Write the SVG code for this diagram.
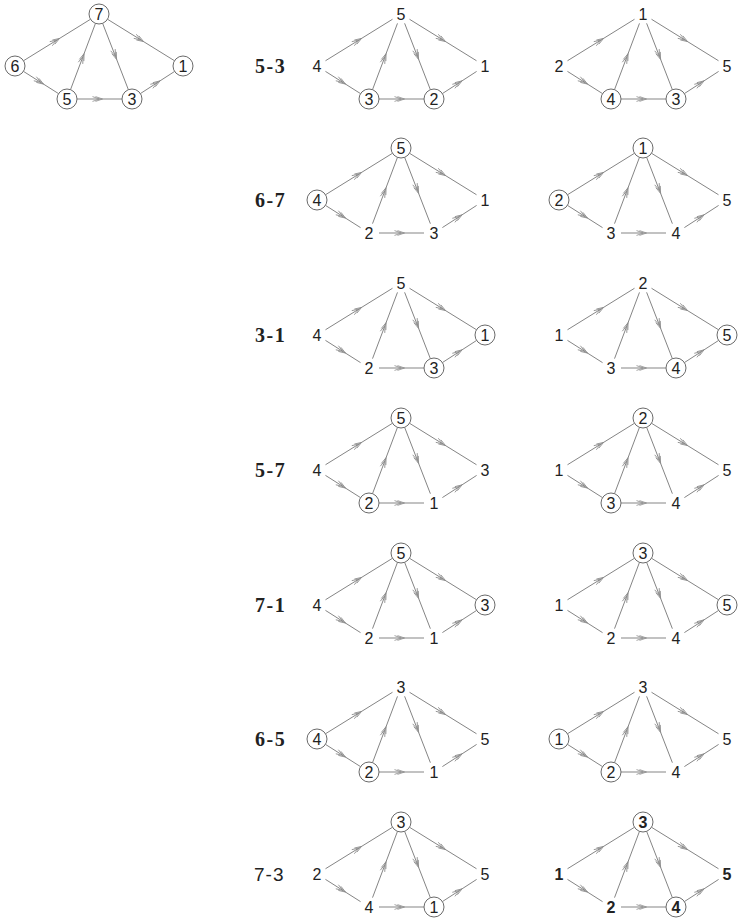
<svg xmlns="http://www.w3.org/2000/svg" width="742" height="919" viewBox="0 0 742 919">
<style>
.e{fill:none;stroke:#858585;stroke-width:1;marker-mid:url(#ah)}
.c{fill:#fff;stroke:#6a6a6a;stroke-width:1}
.n{font-family:"Liberation Sans",Arial,sans-serif;font-size:16px;fill:#222;text-anchor:middle}
.b{font-weight:bold}
.lab{font-family:"Liberation Serif","Times New Roman",serif;font-size:20px;font-weight:bold;fill:#222;letter-spacing:1.5px}
.lab2{font-family:"Liberation Sans",Arial,sans-serif;font-size:19px;fill:#222;letter-spacing:1px}
</style>
<defs>
<marker id="ah" markerUnits="userSpaceOnUse" markerWidth="14" markerHeight="10" viewBox="-8 -5 14 10" refX="0" refY="0" orient="auto" overflow="visible">
<path d="M-7,-2.4 L0,0 L-7,2.4 M-4,-2.4 L3,0 L-4,2.4" fill="none" stroke="#8a8a8a" stroke-width="0.8"/>
</marker>
<g id="edges">
<path class="e" d="M-75.5,46.74 L-42,26 L-8.5,5.26"/>
<path class="e" d="M-75.56,57.36 L-58,68.5 L-40.44,79.64"/>
<path class="e" d="M-28.48,75.64 L-16,42.5 L-3.52,9.36"/>
<path class="e" d="M3.62,9.32 L16.5,42.5 L29.38,75.68"/>
<path class="e" d="M8.5,5.26 L42,26 L75.5,46.74"/>
<path class="e" d="M-22,85 L0.5,85 L23,85"/>
<path class="e" d="M41.4,79.57 L58.5,68.5 L75.6,57.43"/>
</g>
</defs>
<rect width="742" height="919" fill="#fff"/>
<g id="connectors">
<use href="#edges" transform="translate(99,14)"/>
<use href="#edges" transform="translate(401,14)"/>
<use href="#edges" transform="translate(643,14)"/>
<use href="#edges" transform="translate(401,148)"/>
<use href="#edges" transform="translate(643,148)"/>
<use href="#edges" transform="translate(401,283)"/>
<use href="#edges" transform="translate(643,283)"/>
<use href="#edges" transform="translate(401,418)"/>
<use href="#edges" transform="translate(643,418)"/>
<use href="#edges" transform="translate(401,553)"/>
<use href="#edges" transform="translate(643,553)"/>
<use href="#edges" transform="translate(401,687)"/>
<use href="#edges" transform="translate(643,687)"/>
<use href="#edges" transform="translate(401,822)"/>
<use href="#edges" transform="translate(643,822)"/>
</g>
<g id="labels">
<text class="lab" x="255" y="73">5-3</text>
<text class="lab" x="255" y="207">6-7</text>
<text class="lab" x="255" y="342">3-1</text>
<text class="lab" x="255" y="477">5-7</text>
<text class="lab" x="255" y="612">7-1</text>
<text class="lab" x="255" y="746">6-5</text>
<text class="lab2" x="254" y="881">7-3</text>
</g>
<!-- Graph 0 -->
<g id="g0-6"><circle class="c" cx="15" cy="66" r="10"/><text class="n" x="15" y="71.8">6</text></g>
<g id="g0-7"><circle class="c" cx="99" cy="14" r="10"/><text class="n" x="99" y="19.8">7</text></g>
<g id="g0-1"><circle class="c" cx="183" cy="66" r="10"/><text class="n" x="183" y="71.8">1</text></g>
<g id="g0-5"><circle class="c" cx="67" cy="99" r="10"/><text class="n" x="67" y="104.8">5</text></g>
<g id="g0-3"><circle class="c" cx="132" cy="99" r="10"/><text class="n" x="132" y="104.8">3</text></g>
<!-- Row 1 middle -->
<g id="r1m-4"><text class="n" x="317" y="71.8">4</text></g>
<g id="r1m-5"><text class="n" x="401" y="19.8">5</text></g>
<g id="r1m-1"><text class="n" x="485" y="71.8">1</text></g>
<g id="r1m-3"><circle class="c" cx="369" cy="99" r="10"/><text class="n" x="369" y="104.8">3</text></g>
<g id="r1m-2"><circle class="c" cx="434" cy="99" r="10"/><text class="n" x="434" y="104.8">2</text></g>
<!-- Row 1 right -->
<g id="r1r-2"><text class="n" x="559" y="71.8">2</text></g>
<g id="r1r-1"><text class="n" x="643" y="19.8">1</text></g>
<g id="r1r-5"><text class="n" x="727" y="71.8">5</text></g>
<g id="r1r-4"><circle class="c" cx="611" cy="99" r="10"/><text class="n" x="611" y="104.8">4</text></g>
<g id="r1r-3"><circle class="c" cx="676" cy="99" r="10"/><text class="n" x="676" y="104.8">3</text></g>
<!-- Row 2 middle -->
<g id="r2m-4"><circle class="c" cx="317" cy="200" r="10"/><text class="n" x="317" y="205.8">4</text></g>
<g id="r2m-5"><circle class="c" cx="401" cy="148" r="10"/><text class="n" x="401" y="153.8">5</text></g>
<g id="r2m-1"><text class="n" x="485" y="205.8">1</text></g>
<g id="r2m-2"><text class="n" x="369" y="238.8">2</text></g>
<g id="r2m-3"><text class="n" x="434" y="238.8">3</text></g>
<!-- Row 2 right -->
<g id="r2r-2"><circle class="c" cx="559" cy="200" r="10"/><text class="n" x="559" y="205.8">2</text></g>
<g id="r2r-1"><circle class="c" cx="643" cy="148" r="10"/><text class="n" x="643" y="153.8">1</text></g>
<g id="r2r-5"><text class="n" x="727" y="205.8">5</text></g>
<g id="r2r-3"><text class="n" x="611" y="238.8">3</text></g>
<g id="r2r-4"><text class="n" x="676" y="238.8">4</text></g>
<!-- Row 3 middle -->
<g id="r3m-4"><text class="n" x="317" y="340.8">4</text></g>
<g id="r3m-5"><text class="n" x="401" y="288.8">5</text></g>
<g id="r3m-1"><circle class="c" cx="485" cy="335" r="10"/><text class="n" x="485" y="340.8">1</text></g>
<g id="r3m-2"><text class="n" x="369" y="373.8">2</text></g>
<g id="r3m-3"><circle class="c" cx="434" cy="368" r="10"/><text class="n" x="434" y="373.8">3</text></g>
<!-- Row 3 right -->
<g id="r3r-1"><text class="n" x="559" y="340.8">1</text></g>
<g id="r3r-2"><text class="n" x="643" y="288.8">2</text></g>
<g id="r3r-5"><circle class="c" cx="727" cy="335" r="10"/><text class="n" x="727" y="340.8">5</text></g>
<g id="r3r-3"><text class="n" x="611" y="373.8">3</text></g>
<g id="r3r-4"><circle class="c" cx="676" cy="368" r="10"/><text class="n" x="676" y="373.8">4</text></g>
<!-- Row 4 middle -->
<g id="r4m-4"><text class="n" x="317" y="475.8">4</text></g>
<g id="r4m-5"><circle class="c" cx="401" cy="418" r="10"/><text class="n" x="401" y="423.8">5</text></g>
<g id="r4m-3"><text class="n" x="485" y="475.8">3</text></g>
<g id="r4m-2"><circle class="c" cx="369" cy="503" r="10"/><text class="n" x="369" y="508.8">2</text></g>
<g id="r4m-1"><text class="n" x="434" y="508.8">1</text></g>
<!-- Row 4 right -->
<g id="r4r-1"><text class="n" x="559" y="475.8">1</text></g>
<g id="r4r-2"><circle class="c" cx="643" cy="418" r="10"/><text class="n" x="643" y="423.8">2</text></g>
<g id="r4r-5"><text class="n" x="727" y="475.8">5</text></g>
<g id="r4r-3"><circle class="c" cx="611" cy="503" r="10"/><text class="n" x="611" y="508.8">3</text></g>
<g id="r4r-4"><text class="n" x="676" y="508.8">4</text></g>
<!-- Row 5 middle -->
<g id="r5m-4"><text class="n" x="317" y="610.8">4</text></g>
<g id="r5m-5"><circle class="c" cx="401" cy="553" r="10"/><text class="n" x="401" y="558.8">5</text></g>
<g id="r5m-3"><circle class="c" cx="485" cy="605" r="10"/><text class="n" x="485" y="610.8">3</text></g>
<g id="r5m-2"><text class="n" x="369" y="643.8">2</text></g>
<g id="r5m-1"><text class="n" x="434" y="643.8">1</text></g>
<!-- Row 5 right -->
<g id="r5r-1"><text class="n" x="559" y="610.8">1</text></g>
<g id="r5r-3"><circle class="c" cx="643" cy="553" r="10"/><text class="n" x="643" y="558.8">3</text></g>
<g id="r5r-5"><circle class="c" cx="727" cy="605" r="10"/><text class="n" x="727" y="610.8">5</text></g>
<g id="r5r-2"><text class="n" x="611" y="643.8">2</text></g>
<g id="r5r-4"><text class="n" x="676" y="643.8">4</text></g>
<!-- Row 6 middle -->
<g id="r6m-4"><circle class="c" cx="317" cy="739" r="10"/><text class="n" x="317" y="744.8">4</text></g>
<g id="r6m-3"><text class="n" x="401" y="692.8">3</text></g>
<g id="r6m-5"><text class="n" x="485" y="744.8">5</text></g>
<g id="r6m-2"><circle class="c" cx="369" cy="772" r="10"/><text class="n" x="369" y="777.8">2</text></g>
<g id="r6m-1"><text class="n" x="434" y="777.8">1</text></g>
<!-- Row 6 right -->
<g id="r6r-1"><circle class="c" cx="559" cy="739" r="10"/><text class="n" x="559" y="744.8">1</text></g>
<g id="r6r-3"><text class="n" x="643" y="692.8">3</text></g>
<g id="r6r-5"><text class="n" x="727" y="744.8">5</text></g>
<g id="r6r-2"><circle class="c" cx="611" cy="772" r="10"/><text class="n" x="611" y="777.8">2</text></g>
<g id="r6r-4"><text class="n" x="676" y="777.8">4</text></g>
<!-- Row 7 middle -->
<g id="r7m-2"><text class="n" x="317" y="879.8">2</text></g>
<g id="r7m-3"><circle class="c" cx="401" cy="822" r="10"/><text class="n" x="401" y="827.8">3</text></g>
<g id="r7m-5"><text class="n" x="485" y="879.8">5</text></g>
<g id="r7m-4"><text class="n" x="369" y="912.8">4</text></g>
<g id="r7m-1"><circle class="c" cx="434" cy="907" r="10"/><text class="n" x="434" y="912.8">1</text></g>
<!-- Row 7 right -->
<g id="r7r-1"><text class="n b" x="559" y="879.8">1</text></g>
<g id="r7r-3"><circle class="c" cx="643" cy="822" r="10"/><text class="n b" x="643" y="827.8">3</text></g>
<g id="r7r-5"><text class="n b" x="727" y="879.8">5</text></g>
<g id="r7r-2"><text class="n b" x="611" y="912.8">2</text></g>
<g id="r7r-4"><circle class="c" cx="676" cy="907" r="10"/><text class="n b" x="676" y="912.8">4</text></g>
</svg>
